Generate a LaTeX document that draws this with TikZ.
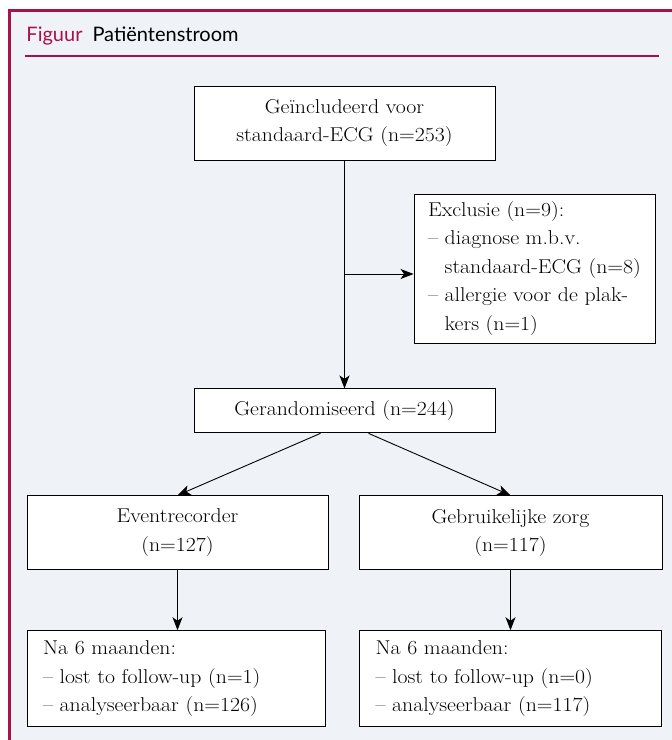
\documentclass[tikz,border=0pt]{standalone}
\usepackage{fontspec}
\newfontfamily\titlefont{Lato}
\newfontfamily\boxfont{Latin Modern Roman}[FakeStretch=1.09]
\usetikzlibrary{arrows.meta,positioning}

\definecolor{figred}{RGB}{168,18,74}
\definecolor{figbg}{RGB}{239,243,247}

\begin{document}
\begin{tikzpicture}[
        x=1pt, y=1pt,
        >={Stealth[length=13pt,width=10pt,inset=3.5pt]},
        every path/.style={line width=0.9pt},
        box/.style={draw, fill=white, align=center, inner sep=0pt,
            font=\boxfont\fontsize{20}{28.5}\selectfont},
        listbox/.style={box, align=left, inner xsep=16pt, text width=266pt, minimum height=96pt}
    ]

    % Frame
    \useasboundingbox (0,0) rectangle (672,740);
    \fill[figbg] (8,0) rectangle (672,731);
    \draw[figred, line width=3pt] (9.5,0) -- (9.5,729.5) -- (672,729.5);
    \node (title) [anchor=base west, inner sep=0pt, font=\titlefont\fontsize{20}{22}\selectfont]
        at (26,698) {\textcolor{figred}{Figuur}\hspace{10pt}Patiëntenstroom};
    \draw[figred, line width=1.5pt] (25,684) -- (659,684);

    % Nodes
    \node (incl) [box, minimum width=301pt, minimum height=74pt] at (344.5,617)
        {Geïncludeerd voor\\ standaard-ECG (n=253)};
    \node (excl) [box, align=left, minimum width=241pt, minimum height=149pt] at (534.5,471.5)
        {Exclusie (n=9):\\
         – diagnose m.b.v.\\
         \phantom{– }standaard-ECG (n=8)\\
         – allergie voor de plak-\\
         \phantom{– }kers (n=1)};
    \node (rand) [box, minimum width=301pt, minimum height=44pt, below=228pt of incl]
        {Gerandomiseerd (n=244)};

    \node (event) [box, minimum width=301pt, minimum height=74pt, below=62pt of rand, xshift=-167pt]
        {Eventrecorder\\ (n=127)};
    \node (usual) [box, minimum width=303pt, minimum height=74pt, below=62pt of rand, xshift=166pt]
        {Gebruikelijke zorg\\ (n=117)};

    \node (fuleft) [listbox, below=60pt of event, xshift=-1.5pt]
        {Na 6 maanden:\\ – lost to follow-up (n=1)\\ – analyseerbaar (n=126)};
    \node (furight) [listbox, text width=270pt, below=60pt of usual]
        {Na 6 maanden:\\ – lost to follow-up (n=0)\\ – analyseerbaar (n=117)};

    % Edges
    \coordinate (exclin) at ([yshift=-5.5pt]excl.west);
    \draw[->] (incl) -- (rand);
    \draw[->] (incl.south |- exclin) -- (exclin);
    \draw[->] ([xshift=-24pt]rand.south) -- (event.north);
    \draw[->] ([xshift=24pt]rand.south) -- (usual.north);
    \draw[->] (event) -- (event |- fuleft.north);
    \draw[->] (usual) -- (usual |- furight.north);

\end{tikzpicture}
\end{document}
